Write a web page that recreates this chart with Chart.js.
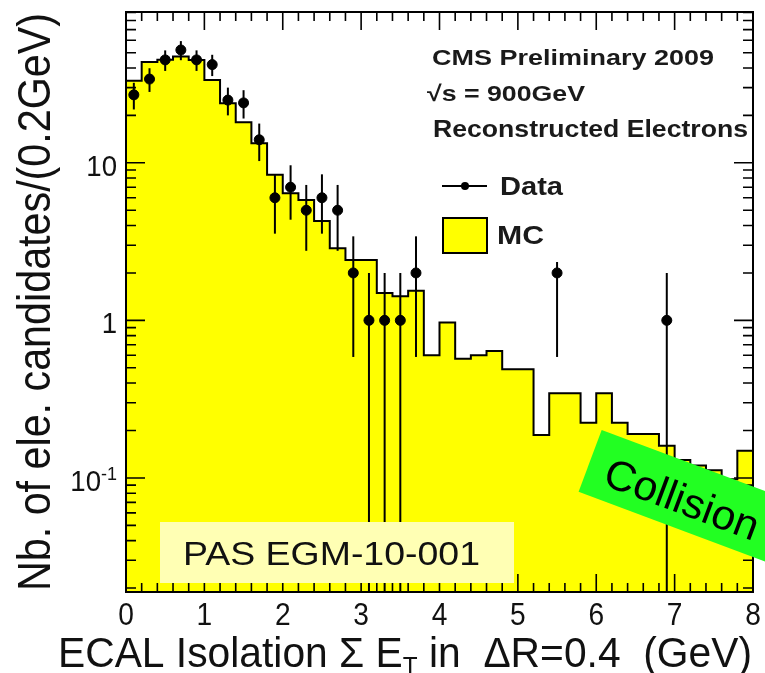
<!DOCTYPE html>
<html>
<head>
<meta charset="utf-8">
<script src="https://cdn.jsdelivr.net/npm/chart.js@4.4.1/dist/chart.umd.min.js"></script>
<style>
  html, body { margin: 0; padding: 0; background: #fff; }
  canvas { display: block; }
</style>
</head>
<body>
<canvas id="chart" width="765" height="673"></canvas>
<script>
// MC histogram, 40 bins of 0.2 GeV from 0 to 8
const binWidth = 0.2
const mcValues = [
  33.2, 43.6, 45.1, 47.3, 45.0, 33.6, 23.9, 18.1, 13.3, 8.4,
  6.4, 5.8, 4.28, 2.87, 2.42, 2.42, 1.49, 1.42, 1.54, 0.60,
  0.97, 0.57, 0.60, 0.64, 0.49, 0.49, 0.187, 0.345, 0.345, 0.224,
  0.345, 0.224, 0.19, 0.19, 0.16, 0.13, 0.12, 0.112, 0.098, 0.149
]

// data points (bin centres, counts)
const dataX = [0.1, 0.3, 0.5, 0.7, 0.9, 1.1, 1.3, 1.5, 1.7, 1.9, 2.1, 2.3, 2.5, 2.7, 2.9, 3.1, 3.3, 3.5, 3.7, 5.5, 6.9]
const dataY = [27, 34, 45, 52, 45, 42, 25, 24, 14, 6, 7, 5, 6, 5, 2, 1, 1, 1, 2, 2, 1]

const xTicks = [0, 1, 2, 3, 4, 5, 6, 7, 8]
const xTickLabels = ['0', '1', '2', '3', '4', '5', '6', '7', '8']
const yTicks = [0.1, 1, 10]
const yTickLabels = [['10', '-1'], ['1', ''], ['10', '']]

const FONT = '"Liberation Sans", Arial, Helvetica, sans-serif'

function fitText(ctx, text, x, y, width, font) {
  ctx.font = font
  const w = ctx.measureText(text).width
  ctx.save()
  ctx.translate(x, y)
  ctx.scale(width / w, 1)
  ctx.fillText(text, 0, 0)
  ctx.restore()
}

const decor = {
  id: 'decor',
  afterDatasetsDraw(chart) {
    const { ctx, chartArea: a, scales: { x, y } } = chart
    ctx.save()

    // error bars (Poisson)
    ctx.save()
    ctx.beginPath()
    ctx.rect(a.left, a.top, a.right - a.left, a.bottom - a.top)
    ctx.clip()
    ctx.strokeStyle = '#000'
    ctx.lineWidth = 2
    dataX.forEach((xv, i) => {
      const n = dataY[i]
      const e = Math.sqrt(n)
      const px = x.getPixelForValue(xv)
      const lo = n - e > 0 ? y.getPixelForValue(n - e) : a.bottom
      ctx.beginPath()
      ctx.moveTo(px, y.getPixelForValue(n + e))
      ctx.lineTo(px, lo)
      ctx.stroke()
    })
    ctx.restore()

    // legend pad (white)
    ctx.fillStyle = '#fff'
    ctx.fillRect(428, 166, 300, 96)

    // frame and ticks
    ctx.strokeStyle = '#000'
    ctx.lineWidth = 2
    ctx.strokeRect(a.left, a.top, a.right - a.left, a.bottom - a.top)
    ctx.lineWidth = 1.6
    ctx.beginPath()
    for (let k = 0; k <= 40; k++) {
      const px = x.getPixelForValue(k * binWidth)
      const len = k % 5 === 0 ? 18 : 9
      ctx.moveTo(px, a.bottom); ctx.lineTo(px, a.bottom - len)
      ctx.moveTo(px, a.top); ctx.lineTo(px, a.top + len)
    }
    for (let d = -2; d <= 1; d++) {
      for (let m = 1; m <= 9; m++) {
        const v = m * Math.pow(10, d)
        if (v < y.min || v > y.max) continue
        const py = y.getPixelForValue(v)
        const len = m === 1 ? 19 : 10
        ctx.moveTo(a.left, py); ctx.lineTo(a.left + len, py)
        ctx.moveTo(a.right, py); ctx.lineTo(a.right - len, py)
      }
    }
    ctx.stroke()

    // tick labels
    ctx.fillStyle = '#111'
    ctx.textAlign = 'center'
    ctx.textBaseline = 'alphabetic'
    ctx.font = '32px ' + FONT
    xTicks.forEach((v, i) => {
      const px = x.getPixelForValue(v)
      ctx.save()
      ctx.translate(px, 625)
      ctx.scale(0.88, 1)
      ctx.fillText(xTickLabels[i], 0, 0)
      ctx.restore()
    })
    ctx.textAlign = 'right'
    yTicks.forEach((v, i) => {
      const py = y.getPixelForValue(v)
      const [base, sup] = yTickLabels[i]
      let right = 117
      if (sup) {
        ctx.font = '18px ' + FONT
        ctx.fillText(sup, right, py + 2)
        right -= ctx.measureText(sup).width
      }
      ctx.font = '30px ' + FONT
      ctx.save()
      ctx.translate(right, py + 13)
      ctx.scale(0.92, 1)
      ctx.fillText(base, 0, 0)
      ctx.restore()
    })

    // axis titles
    ctx.textAlign = 'left'
    ctx.fillStyle = '#111'
    ctx.save()
    ctx.translate(50, 591)
    ctx.rotate(-Math.PI / 2)
    fitText(ctx, 'Nb. of ele. candidates/(0.2GeV)', 0, 0, 578, '46px ' + FONT)
    ctx.restore()

    const parts = [
      { t: 'ECAL Isolation \u03A3 E', size: 42, dy: 0 },
      { t: 'T', size: 25, dy: 8 },
      { t: ' in  \u0394R=0.4  (GeV)', size: 42, dy: 0 }
    ]
    let total = 0
    parts.forEach(p => { ctx.font = p.size + 'px ' + FONT; p.w = ctx.measureText(p.t).width; total += p.w })
    ctx.save()
    ctx.translate(58, 667)
    ctx.scale(694 / total, 1)
    let cx = 0
    parts.forEach(p => {
      ctx.font = p.size + 'px ' + FONT
      ctx.fillText(p.t, cx, p.dy)
      cx += p.w
    })
    ctx.restore()

    // header text
    ctx.fillStyle = '#1a1a1a'
    fitText(ctx, 'CMS Preliminary 2009', 432, 65, 282, 'bold 22px ' + FONT)
    fitText(ctx, '\u221As = 900GeV', 427, 101, 158, 'bold 22px ' + FONT)
    fitText(ctx, 'Reconstructed Electrons', 433, 137, 315, 'bold 23px ' + FONT)

    // legend entries
    ctx.strokeStyle = '#000'
    ctx.lineWidth = 2
    ctx.beginPath(); ctx.moveTo(442, 186); ctx.lineTo(487, 186); ctx.stroke()
    ctx.fillStyle = '#000'
    ctx.beginPath(); ctx.arc(465, 186, 4, 0, Math.PI * 2); ctx.fill()
    ctx.fillStyle = '#1a1a1a'
    fitText(ctx, 'Data', 500, 195, 63, 'bold 26px ' + FONT)
    ctx.fillStyle = '#ffff00'
    ctx.fillRect(443, 218, 44, 35)
    ctx.strokeRect(443, 218, 44, 35)
    ctx.fillStyle = '#1a1a1a'
    fitText(ctx, 'MC', 497, 243.5, 47, 'bold 25px ' + FONT)

    // PAS label
    ctx.fillStyle = '#ffffb4'
    ctx.fillRect(160, 522, 354, 61)
    ctx.fillStyle = '#111'
    fitText(ctx, 'PAS EGM-10-001', 183, 565, 297, '34px ' + FONT)

    // Collision banner
    ctx.save()
    ctx.translate(601.7, 430)
    ctx.rotate(20.5 * Math.PI / 180)
    ctx.fillStyle = '#22ff22'
    ctx.fillRect(0, 0, 260, 66)
    ctx.fillStyle = '#000'
    fitText(ctx, 'Collision', 18.5, 51, 162, '42px ' + FONT)
    ctx.restore()

    ctx.restore()
  }
}

const mcPoints = mcValues.map((v, i) => ({ x: i * binWidth, y: v }))
mcPoints.push({ x: mcValues.length * binWidth, y: mcValues[mcValues.length - 1] })

new Chart(document.getElementById('chart'), {
  type: 'line',
  data: {
    datasets: [
      {
        type: 'scatter',
        label: 'Data',
        data: dataX.map((xv, i) => ({ x: xv, y: dataY[i] })),
        backgroundColor: '#000',
        borderColor: '#000',
        pointRadius: 5,
        pointHoverRadius: 5,
        order: 1
      },
      {
        type: 'line',
        label: 'MC',
        data: mcPoints,
        stepped: 'before',
        fill: 'start',
        backgroundColor: '#ffff00',
        borderColor: '#000',
        borderWidth: 2,
        pointRadius: 0,
        order: 2
      }
    ]
  },
  options: {
    responsive: false,
    animation: false,
    devicePixelRatio: 1,
    events: [],
    layout: { padding: { left: 126, top: 12, right: 12, bottom: 81 } },
    plugins: {
      legend: { display: false },
      tooltip: { enabled: false }
    },
    scales: {
      x: { type: 'linear', min: 0, max: 8, bounds: 'data', display: false },
      y: { type: 'logarithmic', min: 0.01888, max: 90.6, bounds: 'data', display: false }
    }
  },
  plugins: [decor]
})
</script>
</body>
</html>
